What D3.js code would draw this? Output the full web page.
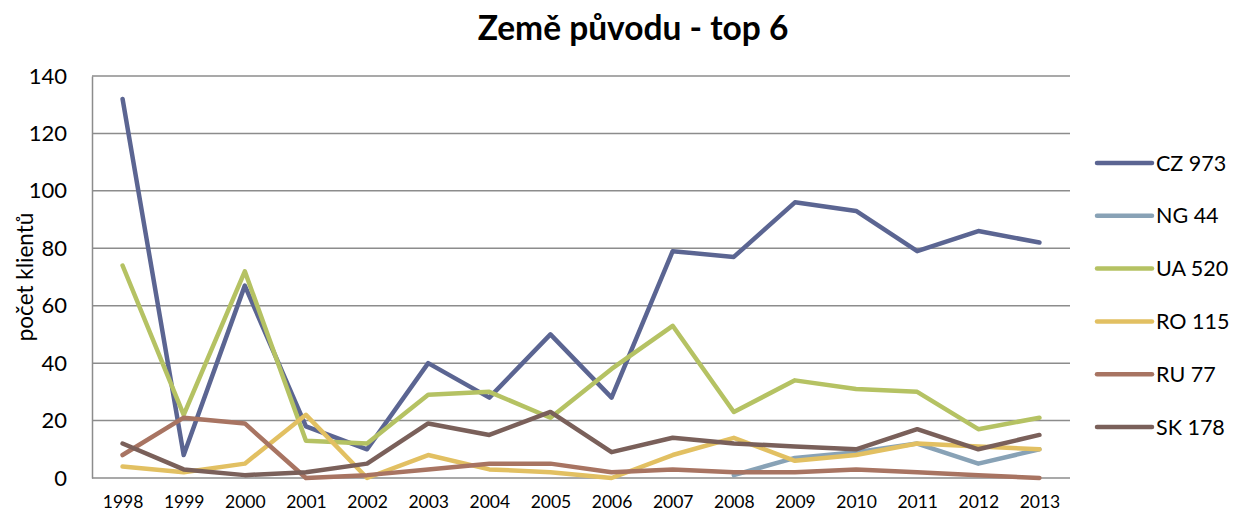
<!DOCTYPE html>
<html lang="cs">
<head>
  <meta charset="UTF-8">
  <title>Země původu - top 6</title>
  <script src="https://d3js.org/d3.v7.min.js"></script>
  <style>
    body {
      margin: 0;
      background: #fff;
      font-family: Lato, "Open Sans", sans-serif;
    }
  </style>
</head>
<body>
  <div id="chart"></div>

  <script>
    // data
    const years = ["1998","1999","2000","2001","2002","2003","2004","2005","2006","2007","2008","2009","2010","2011","2012","2013"];
    const cz = [132, 8, 67, 18, 10, 40, 28, 50, 28, 79, 77, 96, 93, 79, 86, 82];
    const ng = [null, null, null, null, null, null, null, null, null, null, 1, 7, 9, 12, 5, 10];
    const ua = [74, 22, 72, 13, 12, 29, 30, 21, 38, 53, 23, 34, 31, 30, 17, 21];
    const ro = [4, 2, 5, 22, 0, 8, 3, 2, 0, 8, 14, 6, 8, 12, 11, 10];
    const ru = [8, 21, 19, 0, 1, 3, 5, 5, 2, 3, 2, 2, 3, 2, 1, 0];
    const sk = [12, 3, 1, 2, 5, 19, 15, 23, 9, 14, 12, 11, 10, 17, 10, 15];
    const seriesNames = ["CZ 973", "NG 44", "UA 520", "RO 115", "RU 77", "SK 178"];
    const yTicks = [0, 20, 40, 60, 80, 100, 120, 140];

    const series = [cz, ng, ua, ro, ru, sk];
    const colors = ["#5b6592", "#88a2b6", "#b5c263", "#e2c062", "#a87462", "#7a605a"];

    const width = 1236, height = 515;
    const margin = {top: 76, right: 166, bottom: 37, left: 92};

    const svg = d3.select("#chart").append("svg")
      .attr("width", width)
      .attr("height", height);

    const x = d3.scalePoint()
      .domain(years)
      .range([margin.left, width - margin.right])
      .padding(0.5);

    const y = d3.scaleLinear()
      .domain([0, 140])
      .range([height - margin.bottom, margin.top]);

    // gridlines
    svg.append("g")
      .selectAll("line")
      .data(yTicks)
      .enter()
      .append("line")
      .attr("x1", margin.left)
      .attr("x2", width - margin.right)
      .attr("y1", d => y(d))
      .attr("y2", d => y(d))
      .attr("stroke", "#8c8c8c")
      .attr("stroke-width", 1.5);

    // y axis
    const yAxis = svg.append("g")
      .attr("transform", `translate(${margin.left},0)`)
      .call(d3.axisLeft(y).tickValues(yTicks).tickSize(0).tickPadding(25));
    yAxis.select(".domain").attr("stroke", "#8c8c8c").attr("stroke-width", 1.5);
    yAxis.selectAll("text")
      .style("font-size", "22px")
      .style("font-family", "Lato, sans-serif")
      .attr("fill", "#000");

    // x axis
    const xAxis = svg.append("g")
      .attr("transform", `translate(0,${height - margin.bottom})`)
      .call(d3.axisBottom(x).tickSize(0).tickPadding(18));
    xAxis.select(".domain").remove();
    xAxis.selectAll("text")
      .style("font-size", "17.5px")
      .style("font-family", "Lato, sans-serif")
      .attr("fill", "#000");

    // lines
    const line = d3.line()
      .defined(d => d.v !== null)
      .x(d => x(d.year))
      .y(d => y(d.v));

    series.forEach((s, i) => {
      svg.append("path")
        .datum(s.map((v, j) => ({year: years[j], v: v})))
        .attr("d", line)
        .attr("fill", "none")
        .attr("stroke", colors[i])
        .attr("stroke-width", 4.5)
        .attr("stroke-linejoin", "round")
        .attr("stroke-linecap", "round");
    });

    // title
    svg.append("text")
      .attr("x", 633)
      .attr("y", 40)
      .attr("text-anchor", "middle")
      .style("font-size", "33.5px")
      .style("font-weight", "bold")
      .text("Země původu - top 6");

    // y axis title
    svg.append("text")
      .attr("transform", "translate(33,277) rotate(-90)")
      .attr("text-anchor", "middle")
      .style("font-size", "22.5px")
      .text("počet klientů");

    // legend
    const legend = svg.append("g")
      .selectAll("g")
      .data(seriesNames)
      .enter()
      .append("g")
      .attr("transform", (d, i) => `translate(1097,${163 + i * 52.8})`);

    legend.append("line")
      .attr("x1", 0)
      .attr("x2", 55)
      .attr("stroke", (d, i) => colors[i])
      .attr("stroke-width", 4.5)
      .attr("stroke-linecap", "round");

    legend.append("text")
      .attr("x", 59)
      .attr("dy", "0.35em")
      .style("font-size", "21.5px")
      .text(d => d);
  </script>
</body>
</html>
